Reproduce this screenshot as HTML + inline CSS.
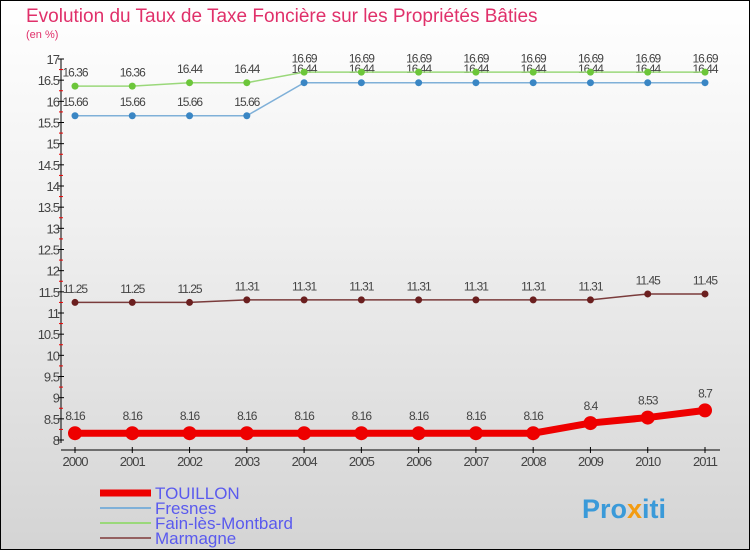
<!DOCTYPE html>
<html><head><meta charset="utf-8"><style>
body{margin:0}
#c{width:750px;height:550px;position:relative;background:linear-gradient(#fff 0%,#f0f0f0 40%,#d4d4d4 100%);box-sizing:border-box;border:1px solid #000;overflow:hidden;font-family:"Liberation Sans","DejaVu Sans",sans-serif}
</style></head><body>
<div id="c">
<svg width="750" height="550" style="position:absolute;left:-1px;top:-1px" id="s">
<text x="26" y="22" font-size="19" fill="#e0306a">Evolution du Taux de Taxe Foncière sur les Propriétés Bâties</text>
<text x="26" y="38" font-size="11" fill="#e0306a">(en %)</text>
<g id="g"></g>
<text x="582" y="518" font-size="27" font-weight="bold" fill="#3a9ad9">Pro<tspan fill="#f39c12">x</tspan>iti</text>
</svg>
</div>
<script>
const years=[2000,2001,2002,2003,2004,2005,2006,2007,2008,2009,2010,2011];
const touillon=[8.16,8.16,8.16,8.16,8.16,8.16,8.16,8.16,8.16,8.4,8.53,8.7];
const fresnes=[15.66,15.66,15.66,15.66,16.44,16.44,16.44,16.44,16.44,16.44,16.44,16.44];
const fain=[16.36,16.36,16.44,16.44,16.69,16.69,16.69,16.69,16.69,16.69,16.69,16.69];
const marmagne=[11.25,11.25,11.25,11.31,11.31,11.31,11.31,11.31,11.31,11.31,11.45,11.45];
const yTicks=[8,8.5,9,9.5,10,10.5,11,11.5,12,12.5,13,13.5,14,14.5,15,15.5,16,16.5,17];
const NS='http://www.w3.org/2000/svg';
const g=document.getElementById('g');
const X=i=>75+i*(630/11);
const Y=v=>440-(v-8)*(381/9);
function mk(t,a,p){const e=document.createElementNS(NS,t);for(const k in a)e.setAttribute(k,a[k]);(p||g).appendChild(e);return e;}
const ax=mk('line',{x1:61,y1:Y(17),x2:61,y2:443,stroke:'#000'});


const xx=mk('line',{x1:61,y1:450,x2:720,y2:450,stroke:'#000'});


yTicks.forEach(v=>{
 mk('line',{x1:58,y1:Y(v),x2:64,y2:Y(v),stroke:'#000'});
 if(v<17)mk('line',{x1:59,y1:Y(v+0.25),x2:63,y2:Y(v+0.25),stroke:'#e00'});
 const t=mk('text',{x:59,y:Y(v)+5,'text-anchor':'end','font-size':13,fill:'#444','letter-spacing':'-1'});
 t.textContent=String(v);
 
 
});
years.forEach((y,i)=>{
 mk('line',{x1:X(i),y1:447,x2:X(i),y2:453,stroke:'#000'});
 const t=mk('text',{x:X(i),y:466,'text-anchor':'middle','font-size':13,fill:'#444','letter-spacing':'-1'});
 t.textContent=y;
 
 
});
function series(d,col,dot,w,r,name){
 const p=mk('polyline',{points:d.map((v,i)=>X(i)+','+Y(v)).join(' '),fill:'none',stroke:col,'stroke-width':w});
 
 
 d.forEach((v,i)=>{
  const c=mk('circle',{cx:X(i),cy:Y(v),r:r,fill:dot});
  
  
  const t=mk('text',{x:X(i),y:Y(v)-(r+6),'text-anchor':'middle','font-size':12,fill:'#444','letter-spacing':'-1'});
  t.textContent=String(v);
  
  
 });
}
series(marmagne,'#7a3b3b','#6b1f1f',1.5,3.5,'marmagne');
series(fresnes,'#7fb0d8','#3a86c4',1.5,3.5,'fresnes');
series(fain,'#9ad87a','#6cc63a',1.5,3.5,'fain');
series(touillon,'#ee0000','#ee0000',7,7,'touillon');
const leg=[['TOUILLON','#ee0000',7],['Fresnes','#7fb0d8',2],['Fain-lès-Montbard','#9ad87a',2],['Marmagne','#946060',2]];
leg.forEach((l,i)=>{
 const y=493+i*15;
 const ln=mk('line',{x1:100,y1:y,x2:151,y2:y,stroke:l[1],'stroke-width':l[2]});
 
 
 const t=mk('text',{x:155,y:y+6,'font-size':17,fill:'#5a5aee'});
 t.textContent=l[0];
 
 
});
</script>
</body></html>
